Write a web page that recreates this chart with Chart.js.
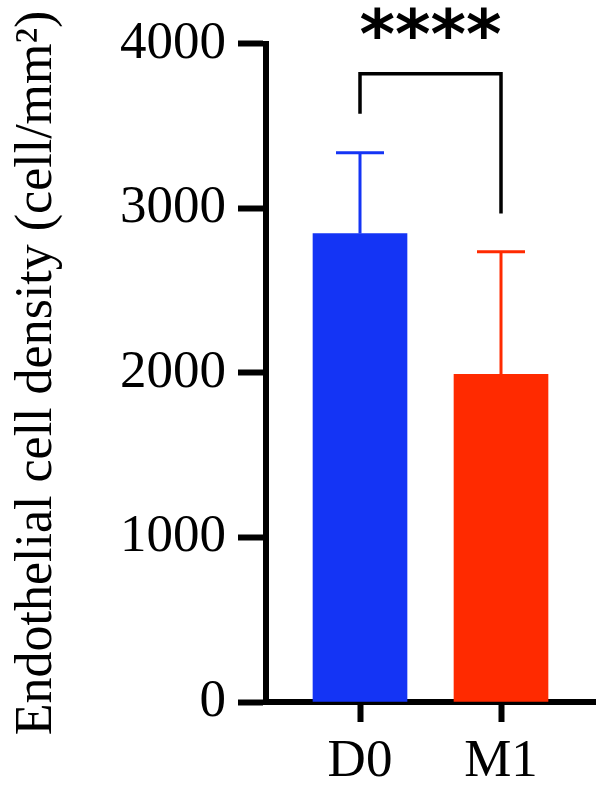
<!DOCTYPE html>
<html>
<head>
<meta charset="utf-8">
<script src="https://cdn.jsdelivr.net/npm/chart.js@4.4.1/dist/chart.umd.min.js"></script>
<style>
  html, body { margin: 0; padding: 0; background: #fff; }
  #wrap { width: 603px; height: 791px; position: relative; }
</style>
</head>
<body>
<div id="wrap"><canvas id="chart"></canvas></div>
<script>
const groups = ["D0", "M1"];
const means = [2847, 1991];
const sds = [491, 746];
const barColors = ["#1434f5", "#ff2a00"];
const yTicks = [0, 1000, 2000, 3000, 4000];
// significance bracket (value units)
const bracket = { top: 3818, leftEnd: 3575, rightEnd: 2968, label: "****" };

const serif = "'Liberation Serif', 'Times New Roman', serif";
Chart.defaults.font.family = serif;
Chart.defaults.color = "#000";

const errorBars = {
  id: "errorBars",
  afterDatasetsDraw(chart) {
    const { ctx, scales: { y } } = chart;
    const bars = chart.getDatasetMeta(0).data;
    ctx.save();
    ctx.lineWidth = 3;
    bars.forEach((bar, i) => {
      const yTop = y.getPixelForValue(means[i] + sds[i]);
      const yBase = y.getPixelForValue(means[i]);
      ctx.strokeStyle = barColors[i];
      ctx.beginPath();
      ctx.moveTo(bar.x, yBase);
      ctx.lineTo(bar.x, yTop);
      ctx.moveTo(bar.x - 24, yTop);
      ctx.lineTo(bar.x + 24, yTop);
      ctx.stroke();
    });
    // bracket
    const x0 = bars[0].x, x1 = bars[1].x;
    const yb = y.getPixelForValue(bracket.top);
    ctx.strokeStyle = "#000";
    ctx.lineWidth = 3.5;
    ctx.beginPath();
    ctx.moveTo(x0, y.getPixelForValue(bracket.leftEnd));
    ctx.lineTo(x0, yb);
    ctx.lineTo(x1, yb);
    ctx.lineTo(x1, y.getPixelForValue(bracket.rightEnd));
    ctx.stroke();
    ctx.fillStyle = "#000";
    ctx.font = "bold 68px 'DejaVu Sans', sans-serif";
    ctx.textAlign = "center";
    ctx.textBaseline = "middle";
    ctx.fillText(bracket.label, (x0 + x1) / 2, yb - 33);
    ctx.restore();
  }
};

new Chart(document.getElementById("chart"), {
  type: "bar",
  data: {
    datasets: [{
      data: groups.map((g, i) => ({ x: i + 1, y: means[i] })),
      backgroundColor: barColors,
      barThickness: 94,
      borderWidth: 0
    }]
  },
  options: {
    responsive: true,
    maintainAspectRatio: false,
    animation: false,
    layout: { padding: { top: 43, right: 8, left: 0, bottom: 0 } },
    plugins: { legend: { display: false }, tooltip: { enabled: false } },
    scales: {
      x: {
        type: "linear",
        min: 1 / 3,
        max: 8 / 3,
        offset: false,
        afterBuildTicks: s => { s.ticks = groups.map((g, i) => ({ value: i + 1 })); },
        afterFit: s => { s.height = 89; },
        ticks: { callback: v => groups[v - 1], font: { size: 53 }, padding: 8, maxRotation: 0, autoSkip: false },
        grid: { offset: false, drawOnChartArea: false, tickLength: 20, tickWidth: 6, tickColor: "#000" },
        border: { display: true, width: 6, color: "#000" }
      },
      y: {
        min: 0,
        max: 4000,
        afterBuildTicks: s => { s.ticks = yTicks.map(v => ({ value: v })); },
        afterFit: s => { s.width = 266; },
        ticks: { callback: v => String(v), font: { size: 53 }, padding: 12 },
        grid: { drawOnChartArea: false, tickLength: 28, tickWidth: 6, tickColor: "#000" },
        border: { display: true, width: 6, color: "#000" },
        title: {
          display: true,
          text: "Endothelial cell density (cell/mm²)",
          font: { size: 52 },
          padding: { top: 6, bottom: 0 }
        }
      }
    }
  },
  plugins: [errorBars]
});
</script>
</body>
</html>
